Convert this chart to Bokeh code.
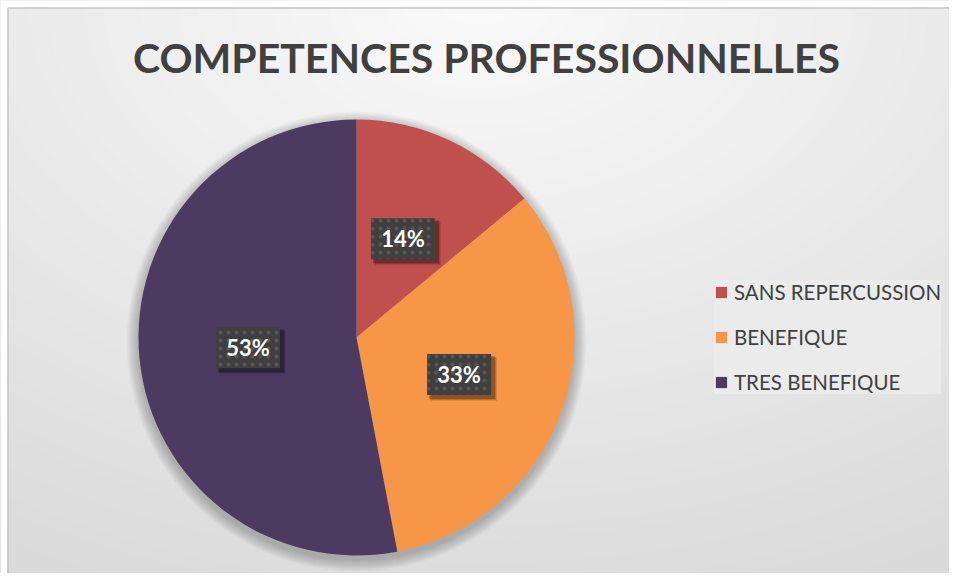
import numpy as np
from bokeh.plotting import figure
from bokeh.models import Range1d, ColumnDataSource, Legend, LegendItem
from bokeh.core.properties import value
from bokeh.embed import file_html
from bokeh.resources import INLINE

# ---- data ----
title = "COMPETENCES PROFESSIONNELLES"
categories = ["SANS REPERCUSSION", "BENEFIQUE", "TRES BENEFIQUE"]
values = [14, 33, 53]
colors = ["#C0504D", "#F79646", "#4D3A61"]

# ---- layout (figure pixels) ----
W, H = 949, 573


def Y(sy):
    return H - sy


p = figure(width=W, height=H, output_backend="svg", toolbar_location=None,
           x_range=Range1d(0, W), y_range=Range1d(0, H), min_border=0)
p.axis.visible = False
p.grid.visible = False
p.background_fill_color = "#D6D6D6"
p.border_fill_color = "#FFFFFF"
p.outline_line_color = None

# ---- radial background gradient ----
gcx, gcy = 478, 0
ax, ay = 900, 600
steps = 60
tmax = 1.25
for k in range(steps):
    t = tmax * (1 - k / steps)
    g = int(round(max(214, min(250, 250 - 30 * t))))
    col = "#%02x%02x%02x" % (g, g, g)
    p.ellipse(x=gcx, y=Y(gcy), width=2 * ax * t, height=2 * ay * t,
              fill_color=col, line_color=None)

# white page margin + chart border (left and top)
p.quad(left=[0, 0], right=[7, W], bottom=[0, Y(7)], top=[H, H],
       fill_color="white", line_color=None)
p.segment(x0=[7.5, 7.5], y0=[0, Y(7.5)], x1=[7.5, W], y1=[Y(7.5), Y(7.5)],
          line_color="#C4C4C4", line_width=1.5)

# ---- pie ----
cx, cy, R = 356, 337, 218
fr = np.array(values, dtype=float) / sum(values)
cum = np.concatenate([[0], np.cumsum(fr)])
a0 = np.pi / 2 - 2 * np.pi * cum[:-1]
a1 = np.pi / 2 - 2 * np.pi * cum[1:]
mid = (a0 + a1) / 2

# soft shadow
for i in range(12):
    p.circle(x=cx, y=Y(cy + 4), radius=R + 12 - i, fill_color="black",
             fill_alpha=0.018, line_color=None)

src = ColumnDataSource(dict(cat=categories, start=a1, end=a0, color=colors))
wedges = p.wedge(x=cx, y=Y(cy), radius=R, start_angle="start", end_angle="end",
                 fill_color="color", line_color=None, source=src)

# ---- data labels ----
lx = cx + 0.5 * R * np.cos(mid)
ly = Y(cy) + 0.5 * R * np.sin(mid)
labels = ["%d%%" % v for v in values]
bw, bh = 64, 41
for off, al in [(6, 0.10), (5, 0.15), (4, 0.25)]:
    p.rect(x=lx + off - 1, y=ly - off + 1, width=bw + 2, height=bh + 2,
           fill_color="black", fill_alpha=al, line_color=None)
p.rect(x=lx, y=ly, width=bw, height=bh, fill_color="#3F3F3F", line_color=None,
       hatch_pattern="dot", hatch_color="#565656", hatch_scale=8, hatch_weight=3)
p.text(x=lx, y=ly, text=labels, text_font=value("Lato"), text_font_style="bold",
       text_font_size="22px", text_color="white", text_align="center",
       text_baseline="middle")

# ---- title ----
p.text(x=[486], y=[Y(57)], text=[title], text_font=value("Lato"),
       text_font_style="bold", text_font_size="41px", text_color="#404040",
       text_align="center", text_baseline="middle")

# ---- legend ----
items = [LegendItem(label=c, renderers=[wedges], index=i) for i, c in enumerate(categories)]
legend = Legend(items=items, location=(714, 179), orientation="vertical",
                label_text_font="Lato", label_text_font_size="20.5px",
                label_text_color="#404040", glyph_width=14, glyph_height=14,
                label_height=20, spacing=21, padding=12, label_standoff=6,
                background_fill_color="#EBEBEB", background_fill_alpha=0.9,
                border_line_color=None, margin=0)
p.add_layout(legend)

open("out.html", "w").write(file_html(p, INLINE))
